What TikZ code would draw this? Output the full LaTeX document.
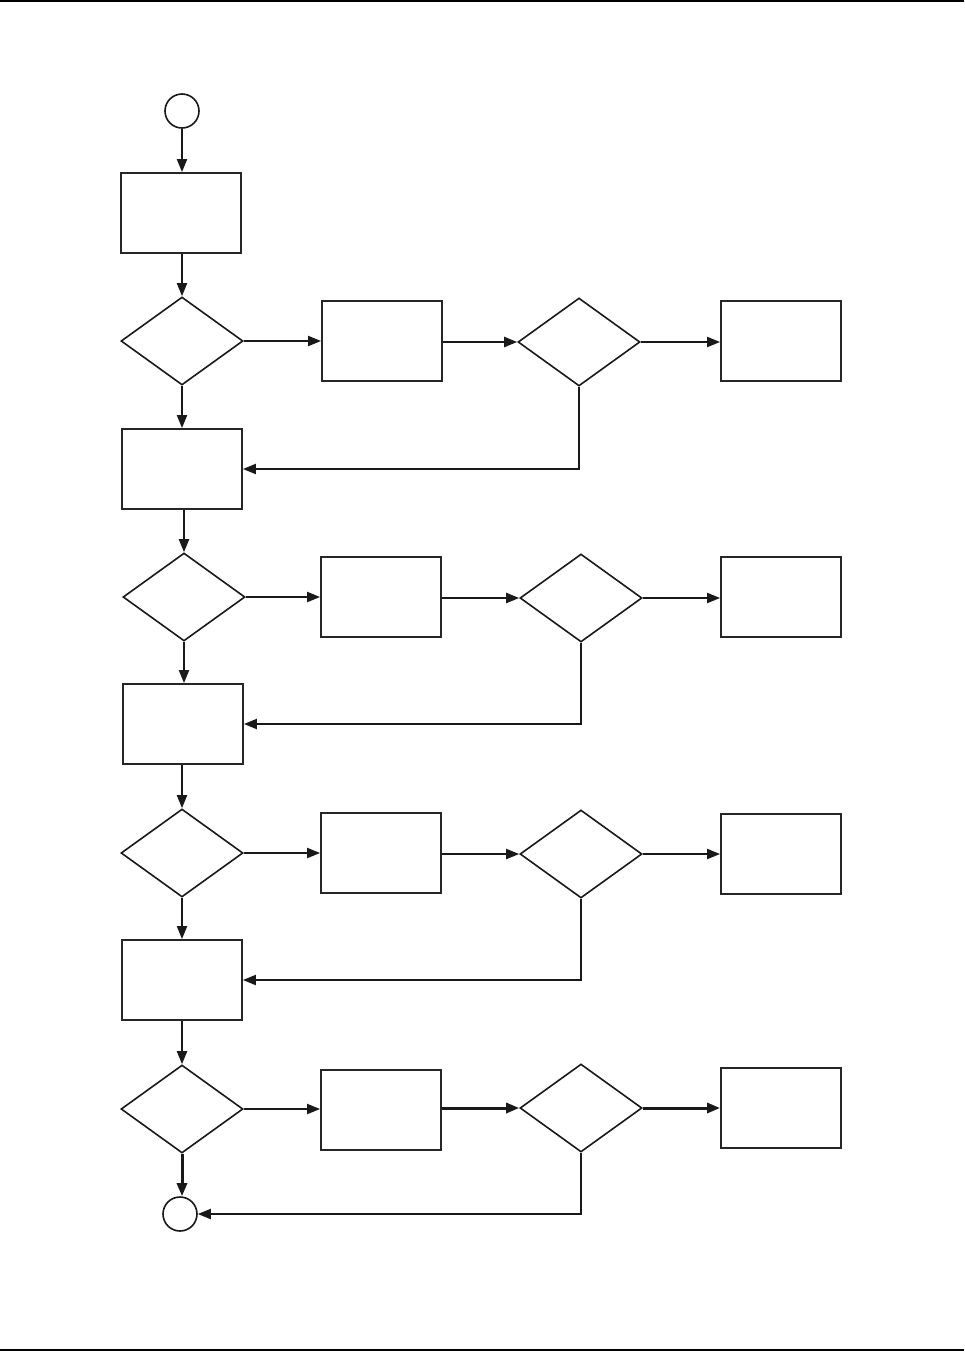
\documentclass[tikz,border=0pt]{standalone}
\usetikzlibrary{shapes.geometric,arrows.meta}
\begin{document}
\begin{tikzpicture}[x=1pt,y=-1pt,
  proc/.style={draw=black!85,line width=1.8pt,minimum width=120pt,minimum height=80pt,inner sep=0pt,fill=white},
  dec/.style={draw=black!90,line width=1.6pt,diamond,minimum width=122pt,minimum height=88pt,inner sep=0pt,aspect=1.386},
  term/.style={draw=black!90,line width=1.6pt,circle,minimum size=34pt,inner sep=0pt},
  conn/.style={draw=black!90,line width=2pt,-{Triangle[length=13pt,width=10pt]}},
  heavy/.style={conn,line width=3pt}]
\useasboundingbox (0,0) rectangle (964,1352);
\fill[white] (0,0) rectangle (964,1352);
\coordinate (tl) at (0,1); \coordinate (tr) at (964,1);
\coordinate (bl) at (0,1350); \coordinate (br) at (964,1350);
\draw[line width=2.2pt] (tl) -- (tr);
\draw[line width=2.6pt] (bl) -- (br);
% start
\node[term] (start) at (182,111) {};
\node[proc] (b1) at (181,213) {};
% row 1
\node[dec] (d1) at (182,341) {};
\node[proc] (p1) at (382,341) {};
\node[dec] (e1) at (579,342) {};
\node[proc] (r1) at (781,341) {};
\node[proc] (b2) at (182,469) {};
% row 2
\node[dec] (d2) at (184,597) {};
\node[proc] (p2) at (381,597) {};
\node[dec] (e2) at (581,598) {};
\node[proc] (r2) at (781,597) {};
\node[proc] (b3) at (183,724) {};
% row 3
\node[dec] (d3) at (182,853) {};
\node[proc] (p3) at (381,853) {};
\node[dec] (e3) at (581,854) {};
\node[proc] (r3) at (781,854) {};
\node[proc] (b4) at (182,980) {};
% row 4
\node[dec] (d4) at (182,1109) {};
\node[proc] (p4) at (381,1110) {};
\node[dec] (e4) at (581,1108) {};
\node[proc] (r4) at (781,1108) {};
\node[term] (stop) at (180,1214) {};
% connectors
\draw[conn] (start) -- (start |- b1.north);
\draw[conn] (d1.north |- b1.south) -- (d1.north);
\draw[conn] (d1.east) -- (p1.west |- d1.east);
\draw[conn] (p1.east |- e1.west) -- (e1.west);
\draw[conn] (e1.east) -- (r1.west |- e1.east);
\draw[conn] (d1.south) -- (b2.north -| d1.south);
\draw[conn] (e1.south) |- (b2.east);
\draw[conn] (d2.north |- b2.south) -- (d2.north);
\draw[conn] (d2.east) -- (p2.west |- d2.east);
\draw[conn] (p2.east |- e2.west) -- (e2.west);
\draw[conn] (e2.east) -- (r2.west |- e2.east);
\draw[conn] (d2.south) -- (b3.north -| d2.south);
\draw[conn] (e2.south) |- (b3.east);
\draw[conn] (d3.north |- b3.south) -- (d3.north);
\draw[conn] (d3.east) -- (p3.west |- d3.east);
\draw[conn] (p3.east |- e3.west) -- (e3.west);
\draw[conn] (e3.east) -- (r3.west |- e3.east);
\draw[conn] (d3.south) -- (b4.north -| d3.south);
\draw[conn] (e3.south) |- (b4.east);
\draw[conn] (d4.north |- b4.south) -- (d4.north);
\draw[conn] (d4.east) -- (p4.west |- d4.east);
\draw[heavy] (p4.east |- e4.west) -- (e4.west);
\draw[heavy] (e4.east) -- (r4.west |- e4.east);
\draw[heavy] (d4.south) -- (stop.north -| d4.south);
\draw[conn] (e4.south) |- (stop.east);
\end{tikzpicture}
\end{document}
